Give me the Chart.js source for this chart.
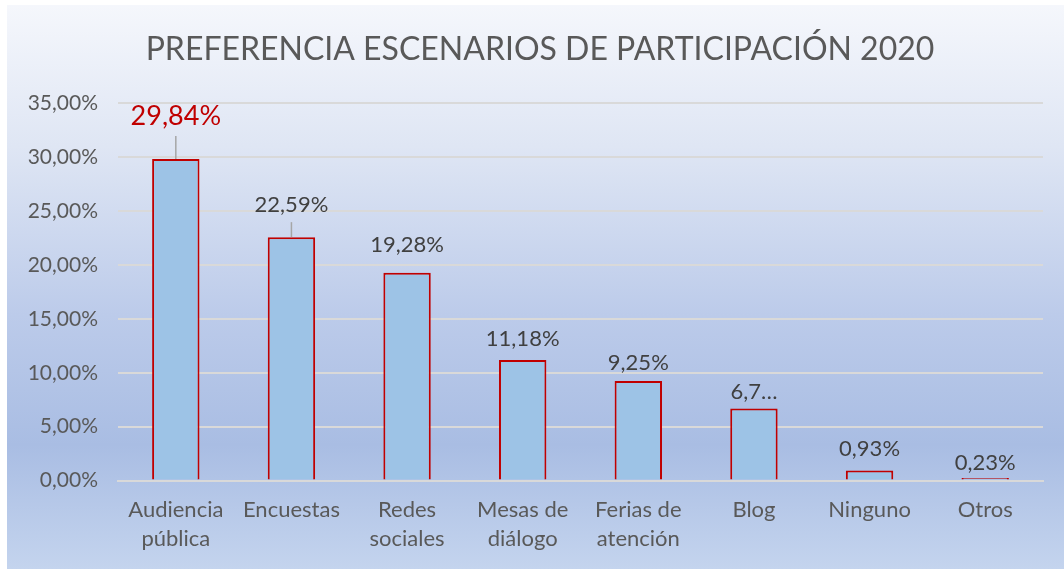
<!DOCTYPE html>
<html>
<head>
<meta charset="utf-8">
<script src="https://cdn.jsdelivr.net/npm/chart.js@4"></script>
<style>
  html, body { margin: 0; padding: 0; background: #fff; }
  #frame {
    position: absolute; left: 7px; top: 5px; width: 1057px; height: 564px;
    background: linear-gradient(to bottom, #f5f7fc 0%, #dfe6f4 25%, #bccbea 55%, #a9bde3 78%, #c4d4ee 100%);
  }
  #wrap { position: absolute; left: 0; top: 0; width: 1064px; height: 569px; }
</style>
</head>
<body>
<div id="frame"></div>
<div id="wrap"><canvas id="chart" width="1064" height="569"></canvas></div>
<script>
  const categories = [['Audiencia', 'pública'], 'Encuestas', ['Redes', 'sociales'], ['Mesas de', 'diálogo'], ['Ferias de', 'atención'], 'Blog', 'Ninguno', 'Otros'];
  const values = [29.84, 22.59, 19.28, 11.18, 9.25, 6.70, 0.93, 0.23];
  const valueLabels = ['29,84%', '22,59%', '19,28%', '11,18%', '9,25%', '6,7…', '0,93%', '0,23%'];
  const yTicks = [0, 5, 10, 15, 20, 25, 30, 35];

  const FONT = 'Lato, "Open Sans", sans-serif';
  const pct = v => v.toFixed(2).replace('.', ',') + '%';

  // value labels above bars, first two with a small leader line
  const barLabels = {
    id: 'barLabels',
    afterLayout(chart) {
      // centre the title on the whole frame, not just the padded area
      if (chart.titleBlock) { chart.titleBlock.left = 16; chart.titleBlock.right = 1064; }
    },
    afterDatasetsDraw(chart) {
      const ctx = chart.ctx;
      const bars = chart.getDatasetMeta(0).data;
      const lift = [43, 32, 28, 21, 18, 16, 22, 15];
      ctx.save();
      ctx.textAlign = 'center';
      ctx.textBaseline = 'middle';
      bars.forEach((bar, i) => {
        if (i < 2) {
          ctx.strokeStyle = '#a6a6a6'; ctx.lineWidth = 1.5;
          ctx.beginPath(); ctx.moveTo(bar.x, bar.y); ctx.lineTo(bar.x, bar.y - (i === 0 ? 23 : 15)); ctx.stroke();
        }
        ctx.fillStyle = i === 0 ? '#c00000' : '#404040';
        ctx.font = (i === 0 ? '27px ' : '22px ') + FONT;
        ctx.fillText(valueLabels[i], bar.x, bar.y - lift[i]);
      });
      ctx.restore();
    }
  };

  new Chart(document.getElementById('chart').getContext('2d'), {
    type: 'bar',
    data: {
      labels: categories,
      datasets: [{
        data: values,
        backgroundColor: '#9dc3e6',
        borderColor: '#c00000',
        borderWidth: 2,
        categoryPercentage: 1,
        barPercentage: 0.41
      }]
    },
    options: {
      responsive: false,
      animation: false,
      layout: { padding: { left: 7, right: 21, top: 0, bottom: 9 } },
      plugins: {
        legend: { display: false },
        tooltip: { enabled: false },
        title: {
          display: true,
          text: 'PREFERENCIA ESCENARIOS DE PARTICIPACIÓN 2020',
          color: '#595959',
          font: { family: FONT, size: 32, weight: 'normal' },
          padding: { top: 30, bottom: 35 }
        }
      },
      scales: {
        x: {
          grid: { display: false },
          border: { color: '#d9d9d9', width: 2 },
          ticks: { color: '#595959', font: { family: FONT, size: 22, lineHeight: 1.35 }, padding: 6, maxRotation: 0, autoSkip: false }
        },
        y: {
          min: 0, max: 35,
          afterBuildTicks: s => { s.ticks = yTicks.map(v => ({ value: v })); },
          afterFit: s => { s.width = 111; },
          grid: { color: '#d9d9d9', lineWidth: 2, drawTicks: false },
          border: { display: false },
          ticks: { color: '#595959', font: { family: FONT, size: 21 }, padding: 20, callback: v => pct(v) }
        }
      }
    },
    plugins: [barLabels]
  });
</script>
</body>
</html>
